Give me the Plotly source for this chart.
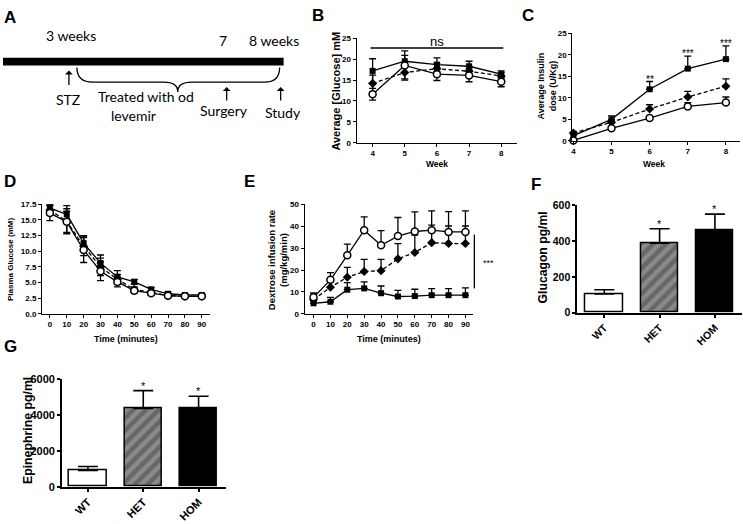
import plotly.graph_objects as go

# ---------------- data ----------------
weeks = [4, 5, 6, 7, 8]
b_sq = [17.2, 19.5, 18.7, 18.3, 16.4]
b_sq_err = [2.9, 1.4, 1.6, 1.2, 0.8]
b_di = [14.2, 16.8, 17.7, 17.1, 16.0]
b_di_err = [2.0, 1.5, 1.3, 1.2, 0.8]
b_ci = [11.6, 18.5, 16.4, 16.1, 14.6]
b_ci_err = [1.4, 3.5, 1.5, 1.5, 1.2]

c_sq = [1.2, 5.0, 12.0, 16.8, 19.0]
c_sq_err = [0.6, 0.8, 1.8, 2.9, 3.1]
c_di = [1.8, 4.3, 7.4, 10.2, 12.7]
c_di_err = [0.4, 0.6, 1.0, 1.3, 1.7]
c_ci = [0.1, 2.9, 5.3, 8.0, 8.9]
c_ci_err = [0.2, 0.3, 0.4, 0.9, 1.3]
c_stars = ["", "", "**", "***", "***"]

times = [0, 10, 20, 30, 40, 50, 60, 70, 80, 90]
d_sq = [16.9, 15.9, 11.3, 8.1, 5.9, 5.1, 3.9, 3.2, 3.0, 3.0]
d_sq_err = [0.6, 1.4, 1.2, 1.3, 1.0, 0.4, 0.3, 0.3, 0.2, 0.2]
d_di = [16.6, 14.8, 10.8, 7.5, 5.5, 3.9, 3.4, 2.9, 2.8, 2.8]
d_di_err = [0.8, 2.0, 1.5, 1.4, 0.8, 0.4, 0.3, 0.3, 0.2, 0.2]
d_ci = [16.1, 14.7, 10.2, 6.8, 5.1, 3.7, 3.3, 2.9, 2.8, 2.8]
d_ci_err = [1.2, 1.7, 2.0, 1.5, 0.8, 0.4, 0.3, 0.2, 0.2, 0.2]

e_ci = [7.5, 15.5, 26.7, 38.2, 31.3, 35.5, 37.6, 38.2, 37.4, 37.4]
e_ci_err = [2.0, 3.3, 5.1, 6.1, 6.7, 8.5, 9.0, 8.8, 9.3, 9.6]
e_di = [6.5, 12.1, 16.7, 19.3, 19.7, 25.1, 28.0, 32.5, 32.1, 32.1]
e_di_err = [2.0, 2.5, 4.5, 5.6, 5.2, 7.0, 8.0, 8.0, 8.0, 8.0]
e_sq = [4.8, 5.5, 11.0, 11.6, 9.4, 7.9, 8.1, 8.5, 8.5, 8.5]
e_sq_err = [1.0, 2.0, 3.2, 3.0, 3.3, 2.8, 3.1, 3.0, 3.0, 3.3]

groups = ["WT", "HET", "HOM"]
glucagon = [105, 389, 458]
glucagon_err = [24, 80, 93]
glucagon_stars = ["", "*", "*"]
epinephrine = [909, 4364, 4364]
epinephrine_err = [218, 1000, 691]
epinephrine_stars = ["", "*", "*"]

# ---------------- helpers ----------------
W, H = 743, 524
def px(x):
    return x / W
def py(y):
    return 1 - y / H

FONT = "Liberation Sans, Arial, sans-serif"
fig = go.Figure()

def add_series(xa, ya, xs, ys, errs, kind, symmetric=True):
    if kind == "sq":
        marker = dict(symbol="square", size=6, color="black")
        dash = "solid"
    elif kind == "di":
        marker = dict(symbol="diamond", size=7, color="black")
        dash = "4px,2.5px"
    else:
        marker = dict(symbol="circle", size=7, color="white",
                      line=dict(color="black", width=1.5))
        dash = "solid"
    err = dict(type="data", array=errs, color="black", thickness=1.3, width=3.5)
    if not symmetric:
        err.update(symmetric=False, arrayminus=[0] * len(errs))
    fig.add_trace(go.Scatter(
        x=xs, y=ys, xaxis=xa, yaxis=ya, mode="lines+markers",
        line=dict(color="black", width=1.3, dash=dash),
        marker=marker, error_y=err, cliponaxis=False, showlegend=False))

# B
for ys, es, k in [(b_sq, b_sq_err, "sq"), (b_di, b_di_err, "di"), (b_ci, b_ci_err, "ci")]:
    add_series("x", "y", weeks, ys, es, k)
# C
for ys, es, k in [(c_sq, c_sq_err, "sq"), (c_di, c_di_err, "di"), (c_ci, c_ci_err, "ci")]:
    add_series("x2", "y2", weeks, ys, es, k, symmetric=False)
# D
for ys, es, k in [(d_sq, d_sq_err, "sq"), (d_di, d_di_err, "di"), (d_ci, d_ci_err, "ci")]:
    add_series("x3", "y3", times, ys, es, k)
# E
for ys, es, k in [(e_sq, e_sq_err, "sq"), (e_di, e_di_err, "di"), (e_ci, e_ci_err, "ci")]:
    add_series("x4", "y4", times, ys, es, k, symmetric=False)

# F, G bars
def add_bars(xa, ya, vals, errs, width_cap):
    fig.add_trace(go.Bar(
        x=[0, 1, 2], y=vals, xaxis=xa, yaxis=ya, width=0.68,
        marker=dict(color=["white", "#8a8a8a", "black"],
                    line=dict(color="black", width=1.5),
                    pattern=dict(shape=["", "/", ""], fgcolor="black",
                                 size=9, solidity=0.5)),
        error_y=dict(type="data", array=errs, symmetric=False,
                     arrayminus=[0, 0, 0], color="black",
                     thickness=1.6, width=width_cap),
        showlegend=False))

add_bars("x5", "y5", glucagon, glucagon_err, 10)
add_bars("x6", "y6", epinephrine, epinephrine_err, 10)

# ---------------- axes ----------------
def axis_style(size=8, lw=1.0):
    return dict(showline=True, linecolor="black", linewidth=lw, ticks="outside",
                ticklen=3, tickwidth=lw, tickcolor="black", showgrid=False,
                zeroline=False, tickfont=dict(family=FONT, size=size, color="black", weight="bold"),
                fixedrange=True)

lay = {}
lay["xaxis"] = dict(axis_style(), domain=[px(356), px(517)], range=[3.5, 8.5],
                    tickvals=weeks, anchor="y")
lay["yaxis"] = dict(axis_style(), domain=[py(140), py(33)], range=[0, 25],
                    tickvals=[0, 5, 10, 15, 20, 25], anchor="x")
lay["xaxis2"] = dict(axis_style(), domain=[px(572), px(740)], range=[3.97, 8.37],
                     tickvals=weeks, anchor="y2")
lay["yaxis2"] = dict(axis_style(), domain=[py(138), py(28)], range=[0, 25],
                     tickvals=[0, 5, 10, 15, 20, 25], anchor="x2")
lay["xaxis3"] = dict(axis_style(), domain=[px(41), px(209)], range=[-4.7, 94.7],
                     tickvals=times, anchor="y3")
lay["yaxis3"] = dict(axis_style(), domain=[py(315), py(203)], range=[0, 17.5],
                     tickvals=[0, 2.5, 5, 7.5, 10, 12.5, 15, 17.5], tickformat=".1f", anchor="x3")
lay["xaxis4"] = dict(axis_style(), domain=[px(304), px(473)], range=[-5.3, 94.7],
                     tickvals=times, anchor="y4")
lay["yaxis4"] = dict(axis_style(), domain=[py(315), py(203)], range=[0, 50],
                     tickvals=[0, 10, 20, 30, 40, 50], anchor="x4")
lay["xaxis5"] = dict(axis_style(10.5, 1.6), domain=[px(577), px(742)], range=[-0.49, 2.49],
                     tickvals=[0, 1, 2], ticktext=groups, tickangle=-45, anchor="y5")
lay["yaxis5"] = dict(axis_style(10.5, 1.6), domain=[py(314), py(204)], range=[0, 600],
                     tickvals=[0, 200, 400, 600], anchor="x5")
lay["xaxis6"] = dict(axis_style(11, 1.6), domain=[px(61), px(225)], range=[-0.47, 2.49],
                     tickvals=[0, 1, 2], ticktext=groups, tickangle=-45, anchor="y6")
lay["yaxis6"] = dict(axis_style(11, 1.6), domain=[py(492), py(382)], range=[0, 6000],
                     tickvals=[0, 2000, 4000, 6000], anchor="x6")

fig.update_layout(width=W, height=H, margin=dict(l=0, r=0, t=0, b=0),
                  paper_bgcolor="white", plot_bgcolor="white", showlegend=False,
                  bargap=0, **lay)

ann = []
def text(x, y, s, size=9, angle=0, bold=True, fam=FONT, xanchor="center"):
    ann.append(dict(x=px(x), y=py(y), xref="paper", yref="paper", text=s, showarrow=False,
                    textangle=angle, xanchor=xanchor, yanchor="middle",
                    font=dict(family=fam, size=size, color="black",
                              weight="bold" if bold else "normal")))

# panel letters
for lab, x, y in [("A", 9, 12), ("B", 317, 10), ("C", 528, 10), ("D", 9, 180),
                  ("E", 249, 180), ("F", 536, 183), ("G", 10, 348)]:
    text(x, y, lab, size=17)

# axis titles
text(335, 87, "Average [Glucose] mM", size=11, angle=-90)
text(437, 162, "Week", size=8.5)
text(547, 82, "Average Insulin<br>dose (U/Kg)", size=9, angle=-90)
text(654, 162, "Week", size=8.5)
text(9, 259, "Plasma Glucose (mM)", size=8, angle=-90)
text(125, 341, "Time (minutes)", size=9)
text(276.5, 260, "Dextrose infusion rate<br>(mg/kg/min)", size=9.5, angle=-90)
text(389, 341, "Time (minutes)", size=9)
text(543, 257, "Glucagon pg/ml", size=12.2, angle=-90)
text(27, 434, "Epinephrine pg/ml", size=12.3, angle=-90)

# ns in B
text(437, 36, "ns", size=13, bold=False, fam="Liberation Sans, Arial")
# *** in E
text(488, 263, "***", size=9, bold=False)

# stars C
for w, v, e, s in zip(weeks, c_sq, c_sq_err, c_stars):
    if s:
        ann.append(dict(x=w, y=v + e, xref="x2", yref="y2", text=s, showarrow=False,
                        yanchor="bottom", yshift=-5,
                        font=dict(family=FONT, size=10, color="black")))
for xa, ya, vals, errs, stars in [("x5", "y5", glucagon, glucagon_err, glucagon_stars),
                                  ("x6", "y6", epinephrine, epinephrine_err, epinephrine_stars)]:
    for i, (v, e, s) in enumerate(zip(vals, errs, stars)):
        if s:
            ann.append(dict(x=i, y=v + e, xref=xa, yref=ya, text=s, showarrow=False,
                            yanchor="bottom", yshift=-3,
                            font=dict(family=FONT, size=11, color="black")))

# Panel A timeline text
AF = "Lato, Open Sans, sans-serif"
text(70, 30, "3 weeks", size=14, bold=False, fam=AF)
text(222, 35, "7", size=14, bold=False, fam=AF)
text(273, 35, "8 weeks", size=14, bold=False, fam=AF)
text(67, 96, "STZ", size=14, bold=False, fam=AF)
text(145, 93, "Treated with od", size=14, bold=False, fam=AF)
text(133, 112, "levemir", size=14, bold=False, fam=AF)
text(223, 107, "Surgery", size=14, bold=False, fam=AF)
text(282, 109, "Study", size=14, bold=False, fam=AF)

# arrows in A
for ax_x, top, bot in [(68, 66, 82), (226, 83, 98), (280, 83, 98)]:
    ann.append(dict(x=px(ax_x), y=py(top), xref="paper", yref="paper",
                    ax=0, ay=bot - top, axref="pixel", ayref="pixel",
                    text="", showarrow=True, arrowhead=1, arrowsize=1,
                    arrowwidth=1.3, arrowcolor="black"))

fig.update_layout(annotations=ann)

shapes = []
# timeline bar
shapes.append(dict(type="rect", xref="paper", yref="paper", x0=px(2), x1=px(283),
                   y0=py(61), y1=py(53), fillcolor="black", line=dict(width=0)))
# brace
def P(x, y):
    return f"{px(x):.5f},{py(y):.5f}"
brace = (f"M {P(76,63)} Q {P(76,78)} {P(92,78)} L {P(163,78)} Q {P(177,78)} {P(177,88)} "
         f"Q {P(177,78)} {P(191,78)} L {P(264,78)} Q {P(279,78)} {P(279,63)}")
shapes.append(dict(type="path", xref="paper", yref="paper", path=brace,
                   line=dict(color="black", width=1.3)))
# ns line in B
shapes.append(dict(type="line", xref="paper", yref="paper", x0=px(370), x1=px(503),
                   y0=py(43), y1=py(43), line=dict(color="black", width=1.5)))
# significance line in E
shapes.append(dict(type="line", xref="paper", yref="paper", x0=px(474), x1=px(474),
                   y0=py(234), y1=py(289), line=dict(color="black", width=1.3)))
fig.update_layout(shapes=shapes)

fig.write_html("out.html", config={"displayModeBar": False},
               post_script="document.body.style.margin='0px';document.body.style.padding='0px';")
